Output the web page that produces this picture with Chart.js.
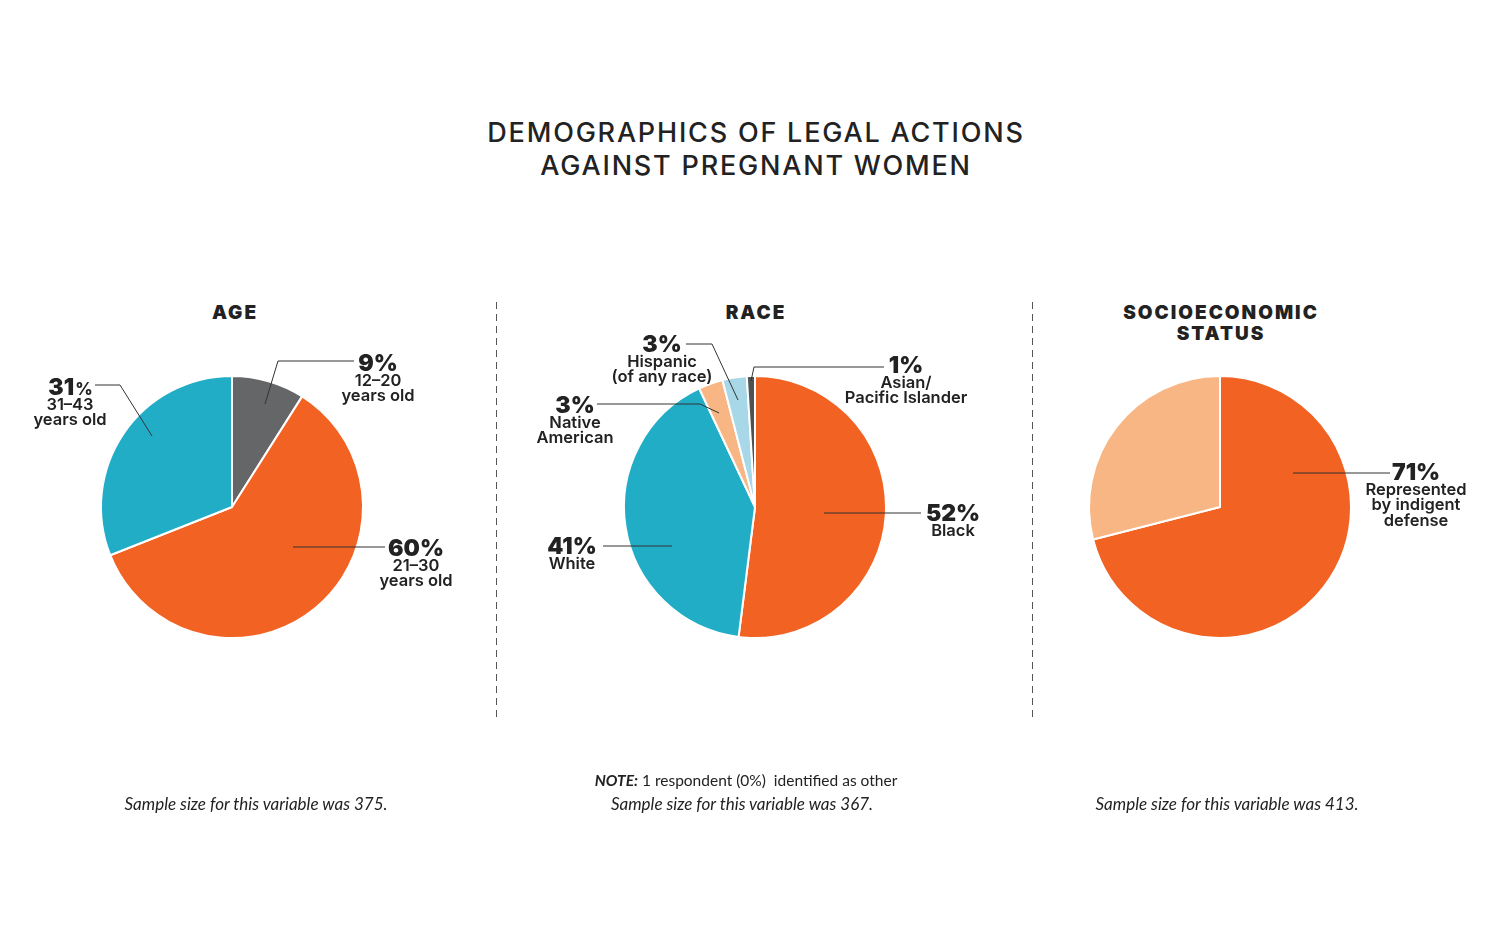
<!DOCTYPE html>
<html>
<head>
<meta charset="utf-8">
<script src="https://cdn.jsdelivr.net/npm/chart.js"></script>
<style>
  html, body { margin: 0; padding: 0; background: #fff; }
  body { width: 1500px; height: 934px; position: relative; overflow: hidden; font-family: Inter, "Noto Sans", sans-serif; color: #222; }
  .title { position: absolute; top: 116px; left: 6px; width: 1500px; text-align: center; font-size: 27px; font-weight: 500; letter-spacing: 1.8px; line-height: 33px; }
  .sub { position: absolute; width: 300px; text-align: center; font-size: 19px; font-weight: 900; letter-spacing: 2px; line-height: 21px; }
  .note { position: absolute; width: 400px; text-align: center; font-family: Lato, sans-serif; font-style: italic; font-size: 17px; line-height: 23px; }
  .divider { position: absolute; top: 302px; width: 1px; height: 416px; background: repeating-linear-gradient(to bottom, #555 0 7px, transparent 7px 12px); }
  canvas { position: absolute; top: 0; }
</style>
</head>
<body>
<div class="title">DEMOGRAPHICS OF LEGAL ACTIONS<br>AGAINST PREGNANT WOMEN</div>

<div class="sub" style="left:85px; top:302px;">AGE</div>
<div class="sub" style="left:606px; top:302px;">RACE</div>
<div class="sub" style="left:1071px; top:302px;">SOCIOECONOMIC<br>STATUS</div>

<div class="divider" style="left:496px;"></div>
<div class="divider" style="left:1032px;"></div>

<div style="position:absolute; left:0; top:0; width:496px; height:934px;"><canvas id="ageChart"></canvas></div>
<div style="position:absolute; left:496px; top:0; width:536px; height:934px;"><canvas id="raceChart"></canvas></div>
<div style="position:absolute; left:1032px; top:0; width:468px; height:934px;"><canvas id="sesChart"></canvas></div>

<div class="note" style="left:56px; top:792px;">Sample size for this variable was 375.</div>
<div class="note" style="left:546px; top:769px; font-style: normal; font-size: 15.5px;"><b><i>NOTE:</i></b> 1 respondent (0%)&nbsp; identified as other</div>
<div class="note" style="left:542px; top:792px;">Sample size for this variable was 367.</div>
<div class="note" style="left:1027px; top:792px;">Sample size for this variable was 413.</div>

<script>
// data
const ageLabels = ['12–20\nyears old', '21–30\nyears old', '31–43\nyears old'];
const ageValues = [9, 60, 31];

const raceLabels = ['Black', 'White', 'Native\nAmerican', 'Hispanic\n(of any race)', 'Asian/\nPacific Islander'];
const raceValues = [52, 41, 3, 3, 1];

const sesLabels = ['Represented\nby indigent\ndefense', 'Other'];
const sesValues = [71, 29];

// colours
const ORANGE = '#F16223';
const TEAL = '#22ADC7';
const GREY = '#656667';
const PEACH = '#F8B684';
const LIGHTBLUE = '#A8D8E7';
const DARKGREY = '#4F5152';

// callout layout, relative to pie centre: leader polyline + text anchor
const ageCallouts = [
    { line: [[33, -103], [46, -146], [122, -146]], tx: 146, ty: -145 },
    { line: [[61, 40], [153, 40]], tx: 184, ty: 40 },
    { line: [[-80, -71], [-112, -122], [-137, -122]], tx: -162, ty: -121, smallPct: true }
];
const raceCallouts = [
    { line: [[69, 6], [166, 6]], tx: 198, ty: 5 },
    { line: [[-83, 39], [-152, 39]], tx: -183, ty: 38 },
    { line: [[-36, -94], [-55, -103], [-158, -103]], tx: -180, ty: -103 },
    { line: [[-17, -107], [-43, -163], [-69, -163]], tx: -93, ty: -164 },
    { line: [[-4, -126], [-1, -140], [129, -140]], tx: 151, ty: -143 }
];
const sesCallouts = [
    { line: [[73, -34], [170, -34]], tx: 196, ty: -36 }
];

const calloutPlugin = {
    id: 'callouts',
    afterDraw(chart, args, opts) {
        const meta = chart.getDatasetMeta(0);
        const arc = meta.data[0];
        if (!arc) return;
        const cx = arc.x, cy = arc.y;
        const ctx = chart.ctx;
        const values = chart.data.datasets[0].data;
        const labels = chart.data.labels;
        ctx.save();
        (opts.items || []).forEach((c, i) => {
            if (!c) return;
            ctx.beginPath();
            ctx.strokeStyle = '#333';
            ctx.lineWidth = 1;
            c.line.forEach((p, j) => {
                if (j === 0) ctx.moveTo(cx + p[0], cy + p[1]);
                else ctx.lineTo(cx + p[0], cy + p[1]);
            });
            ctx.stroke();

            const x = cx + c.tx, y = cy + c.ty;
            ctx.fillStyle = '#222';
            ctx.textBaseline = 'middle';
            const num = String(values[i]);
            const pctFont = '900 23px Inter';
            if (c.smallPct) {
                ctx.font = pctFont;
                const w1 = ctx.measureText(num).width;
                ctx.font = '800 17px Inter';
                const w2 = ctx.measureText('%').width;
                const start = x - (w1 + w2) / 2;
                ctx.textAlign = 'left';
                ctx.font = pctFont;
                ctx.fillText(num, start, y + 2);
                ctx.font = '800 17px Inter';
                ctx.fillText('%', start + w1 + 1, y + 4);
            } else {
                ctx.textAlign = 'center';
                ctx.font = pctFont;
                ctx.fillText(num + '%', x, y + 2);
            }
            ctx.font = '600 16.5px Inter';
            ctx.textAlign = 'center';
            labels[i].split('\n').forEach((s, k) => {
                ctx.fillText(s, x, y + 19 + k * 15.5);
            });
        });
        ctx.restore();
    }
};

function makePie(id, labels, values, colors, callouts, padLeft, padRight) {
    return new Chart(document.getElementById(id), {
        type: 'pie',
        data: {
            labels: labels,
            datasets: [{
                data: values,
                backgroundColor: colors,
                borderColor: '#fff',
                borderWidth: 2,
                hoverOffset: 0,
                offset: 0
            }]
        },
        options: {
            responsive: true,
            maintainAspectRatio: false,
            animation: false,
            events: [],
            radius: 131,
            layout: { padding: { left: padLeft, right: padRight, top: 376, bottom: 296 } },
            plugins: {
                legend: { display: false },
                tooltip: { enabled: false },
                callouts: { items: callouts }
            }
        },
        plugins: [calloutPlugin]
    });
}

makePie('ageChart', ageLabels, ageValues, [GREY, ORANGE, TEAL], ageCallouts, 101, 133);
makePie('raceChart', raceLabels, raceValues, [ORANGE, TEAL, PEACH, LIGHTBLUE, DARKGREY], raceCallouts, 128, 146);
makePie('sesChart', sesLabels, sesValues, [ORANGE, PEACH], sesCallouts, 57, 149);
</script>
</body>
</html>
